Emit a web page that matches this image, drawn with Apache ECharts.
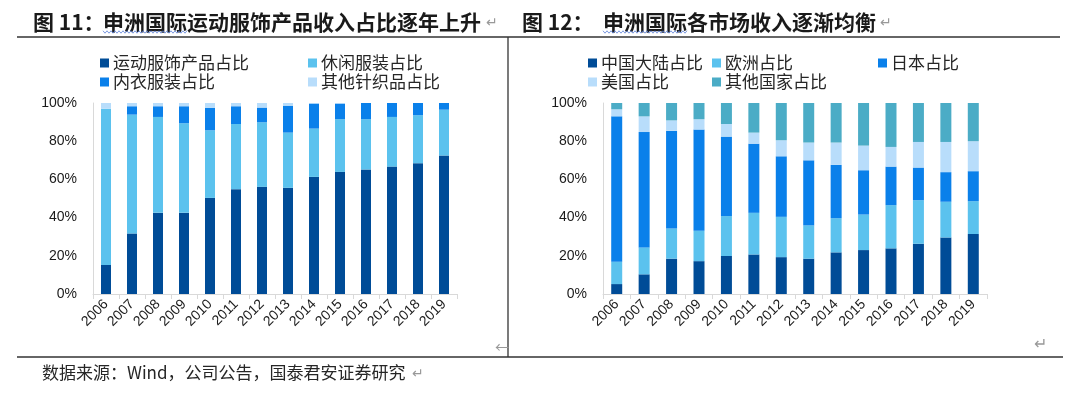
<!DOCTYPE html>
<html>
<head>
<meta charset="utf-8">
<script src="https://cdn.jsdelivr.net/npm/echarts@6/dist/echarts.min.js"></script>
<style>
html, body { margin: 0; padding: 0; background: #fff; }
#chart { width: 1080px; height: 398px; }
</style>
</head>
<body>
<div id="chart"></div>
<script>
var years = ['2006', '2007', '2008', '2009', '2010', '2011', '2012', '2013', '2014', '2015', '2016', '2017', '2018', '2019'];

// 图11: product mix (%)
var sportShare = [15.2, 31.7, 42.5, 42.5, 50.3, 54.9, 56.1, 55.6, 61.3, 63.9, 65.2, 66.7, 68.5, 72.5];
var casualShare = [81.8, 62.2, 50.2, 46.9, 35.4, 34.1, 33.8, 28.9, 25.3, 27.6, 26.3, 26.0, 25.1, 24.0];
var underwearShare = [0, 4.4, 5.6, 8.9, 11.7, 9.3, 7.7, 14.1, 13.1, 8.2, 8.5, 7.3, 6.4, 3.5];
var knitShare = [3.0, 1.7, 1.7, 1.7, 2.6, 1.7, 2.4, 1.4, 0.3, 0.3, 0, 0, 0, 0];

// 图12: market mix (%)
var chinaShare = [5.2, 10.3, 18.5, 17.2, 19.9, 20.7, 19.3, 18.5, 21.8, 23.0, 23.9, 26.3, 29.6, 31.4];
var europeShare = [11.7, 14.1, 15.8, 15.9, 20.9, 21.8, 21.1, 17.4, 17.9, 18.6, 22.6, 22.8, 18.7, 17.2];
var japanShare = [76.1, 60.4, 51.1, 53.0, 41.6, 36.2, 31.7, 34.1, 27.9, 23.2, 20.2, 17.1, 15.5, 15.7];
var usShare = [3.7, 8.2, 5.5, 5.4, 6.6, 5.8, 8.4, 9.3, 11.7, 12.9, 10.3, 13.4, 15.8, 15.7];
var otherShare = [3.3, 7.0, 9.1, 8.5, 11.0, 15.5, 19.5, 20.7, 20.7, 22.3, 23.0, 20.4, 20.4, 20.0];

var yTicks = [0, 20, 40, 60, 80, 100];

var DARK = '#004c97';
var LIGHT = '#5bc2ee';
var BRIGHT = '#0a80ea';
var PALE = '#b8ddfb';
var TEAL = '#4bacc6';

var CJK = '"Noto Sans CJK SC", sans-serif';
var LATIN = '"Liberation Sans", Arial, sans-serif';

var chart = echarts.init(document.getElementById('chart'));

function xAxisFor(gridIndex) {
	return {
		type: 'category',
		gridIndex: gridIndex,
		data: years,
		axisLine: { lineStyle: { color: '#d9d9d9', width: 1 } },
		axisTick: { show: true, length: 5, lineStyle: { color: '#d9d9d9' } },
		axisLabel: { rotate: 45, color: '#1a1a1a', fontSize: 14, fontFamily: LATIN, margin: 8 }
	};
}

function yAxisFor(gridIndex) {
	return {
		type: 'value',
		gridIndex: gridIndex,
		min: yTicks[0],
		max: yTicks[yTicks.length - 1],
		interval: yTicks[1] - yTicks[0],
		splitLine: { show: false },
		axisTick: { show: false },
		axisLine: { show: true, lineStyle: { color: '#d9d9d9', width: 1 } },
		axisLabel: { color: '#1a1a1a', fontSize: 14, fontFamily: LATIN, margin: 16, formatter: '{value}%' }
	};
}

function barSeries(name, data, color, axisIndex, stack, width) {
	return {
		name: name,
		type: 'bar',
		stack: stack,
		xAxisIndex: axisIndex,
		yAxisIndex: axisIndex,
		barWidth: width,
		itemStyle: { color: color },
		data: data
	};
}

function legendItem(name, x, y) {
	return {
		data: [name],
		left: x,
		top: y - 9,
		padding: 0,
		icon: 'rect',
		itemWidth: 9,
		itemHeight: 9,
		itemGap: 0,
		textStyle: { fontSize: 17, fontFamily: CJK, color: '#262626', lineHeight: 18, padding: [0, 0, 0, -1] }
	};
}

function text(str, x, y, size, weight, color) {
	return {
		type: 'text',
		x: x,
		y: y,
		style: {
			text: str,
			fontSize: size,
			fontFamily: CJK,
			fontWeight: weight || 'normal',
			fill: color || '#1a1a1a',
			verticalAlign: 'middle'
		}
	};
}

function rule(x1, y1, x2, y2) {
	return {
		type: 'line',
		shape: { x1: x1, y1: y1, x2: x2, y2: y2 },
		style: { stroke: '#333', lineWidth: 1.3 }
	};
}

// spell-check squiggle under the company name
function squiggle(x0, x1, y) {
	var pts = [];
	for (var x = x0, i = 0; x <= x1; x += 2, i++) {
		pts.push([x, y + (i % 2 ? 1.2 : -1.2)]);
	}
	return {
		type: 'polyline',
		shape: { points: pts },
		style: { stroke: '#5a7fd8', lineWidth: 0.8, fill: null }
	};
}

chart.setOption({
	animation: false,
	backgroundColor: '#fff',
	grid: [
		{ left: 93, top: 103, width: 364, height: 191 },
		{ left: 603, top: 103, width: 384, height: 191 }
	],
	xAxis: [xAxisFor(0), xAxisFor(1)],
	yAxis: [yAxisFor(0), yAxisFor(1)],
	legend: [
		legendItem('运动服饰产品占比', 100, 63),
		legendItem('休闲服装占比', 308, 63),
		legendItem('内衣服装占比', 100, 82),
		legendItem('其他针织品占比', 308, 82),
		legendItem('中国大陆占比', 588, 63),
		legendItem('欧洲占比', 712, 63),
		legendItem('日本占比', 878, 63),
		legendItem('美国占比', 588, 82),
		legendItem('其他国家占比', 712, 82)
	],
	series: [
		barSeries('运动服饰产品占比', sportShare, DARK, 0, 'product', 10),
		barSeries('休闲服装占比', casualShare, LIGHT, 0, 'product', 10),
		barSeries('内衣服装占比', underwearShare, BRIGHT, 0, 'product', 10),
		barSeries('其他针织品占比', knitShare, PALE, 0, 'product', 10),
		barSeries('中国大陆占比', chinaShare, DARK, 1, 'market', 11),
		barSeries('欧洲占比', europeShare, LIGHT, 1, 'market', 11),
		barSeries('日本占比', japanShare, BRIGHT, 1, 'market', 11),
		barSeries('美国占比', usShare, PALE, 1, 'market', 11),
		barSeries('其他国家占比', otherShare, TEAL, 1, 'market', 11)
	],
	graphic: [
		text('图 11：', 33, 22, 21, 'bold'),
		text('申洲国际运动服饰产品收入占比逐年上升', 103, 22, 21, 'bold'),
		text('↵', 486, 22, 14, 'normal', '#999'),
		squiggle(103, 188, 32),
		text('图 12：', 522, 22, 21, 'bold'),
		text('申洲国际各市场收入逐渐均衡', 603, 22, 21, 'bold'),
		text('↵', 880, 22, 14, 'normal', '#999'),
		squiggle(603, 688, 32),
		rule(17, 37, 1060, 37),
		rule(508, 37, 508, 357),
		rule(17, 357, 1063, 357),
		text('←', 495, 347, 14, 'normal', '#999'),
		text('↵', 1034, 343, 16, 'normal', '#999'),
		text('数据来源：Wind，公司公告，国泰君安证券研究', 42, 373, 17, 'normal', '#262626'),
		text('↵', 412, 373, 14, 'normal', '#999')
	]
});
</script>
</body>
</html>
